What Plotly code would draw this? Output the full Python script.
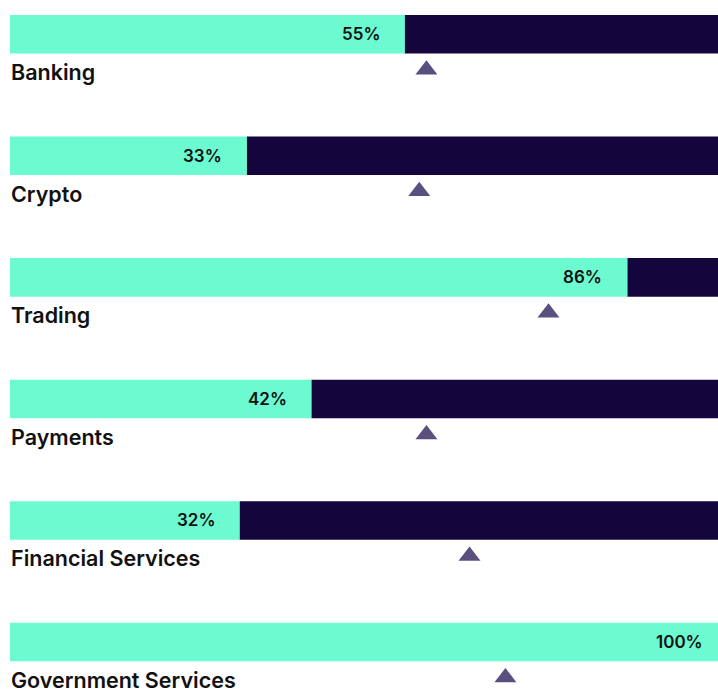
import plotly.graph_objects as go

categories = ["Banking", "Crypto", "Trading", "Payments", "Financial Services", "Government Services"]
values = [55, 33, 86, 42, 32, 100]
benchmarks = [58, 57, 75, 58, 64, 69]
value_labels = ["55%", "33%", "86%", "42%", "32%", "100%"]

GREEN = "#6CFAD0"
DARK = "#14053C"
TRI = "#5A5080"

rows = list(range(len(categories)))
rest = [100 - v for v in values]

fig = go.Figure()
fig.add_trace(go.Bar(y=rows, x=values, orientation="h", marker=dict(color=GREEN, line=dict(width=0)),
                     width=0.317, hoverinfo="skip", showlegend=False))
fig.add_trace(go.Bar(y=rows, x=rest, base=values, orientation="h", marker=dict(color=DARK, line=dict(width=0)),
                     width=0.317, hoverinfo="skip", showlegend=False))
# benchmark triangles placed just below each bar
fig.add_trace(go.Scatter(x=benchmarks, y=[r + 0.292 for r in rows], mode="markers",
                         marker=dict(symbol="triangle-up", size=19, color=TRI, line=dict(width=0)),
                         hoverinfo="skip", showlegend=False, cliponaxis=False))

for r, v, lab, cat in zip(rows, values, value_labels, categories):
    fig.add_annotation(x=v, y=r, xref="x", yref="y", text=lab, showarrow=False,
                       xanchor="right", yanchor="middle", xshift=-23,
                       font=dict(family="Inter", size=17, color="#111111", weight=600))
    fig.add_annotation(x=0, y=r, xref="paper", yref="y", text=cat, showarrow=False,
                       xanchor="left", yanchor="middle", yshift=-38, xshift=-1,
                       font=dict(family="Inter", size=21.5, color="#111111", weight=600))

fig.update_layout(
    width=728, height=690,
    margin=dict(l=10, r=0, t=0, b=0),
    barmode="overlay",
    plot_bgcolor="white", paper_bgcolor="white",
    xaxis=dict(range=[0, 100], visible=False, fixedrange=True),
    yaxis=dict(range=[5.395, -0.2821], visible=False, fixedrange=True),
    showlegend=False,
)

fig.write_html(
    "out.html",
    config={"displayModeBar": False},
    post_script="document.body.style.margin='0';document.body.style.overflow='hidden';",
)
